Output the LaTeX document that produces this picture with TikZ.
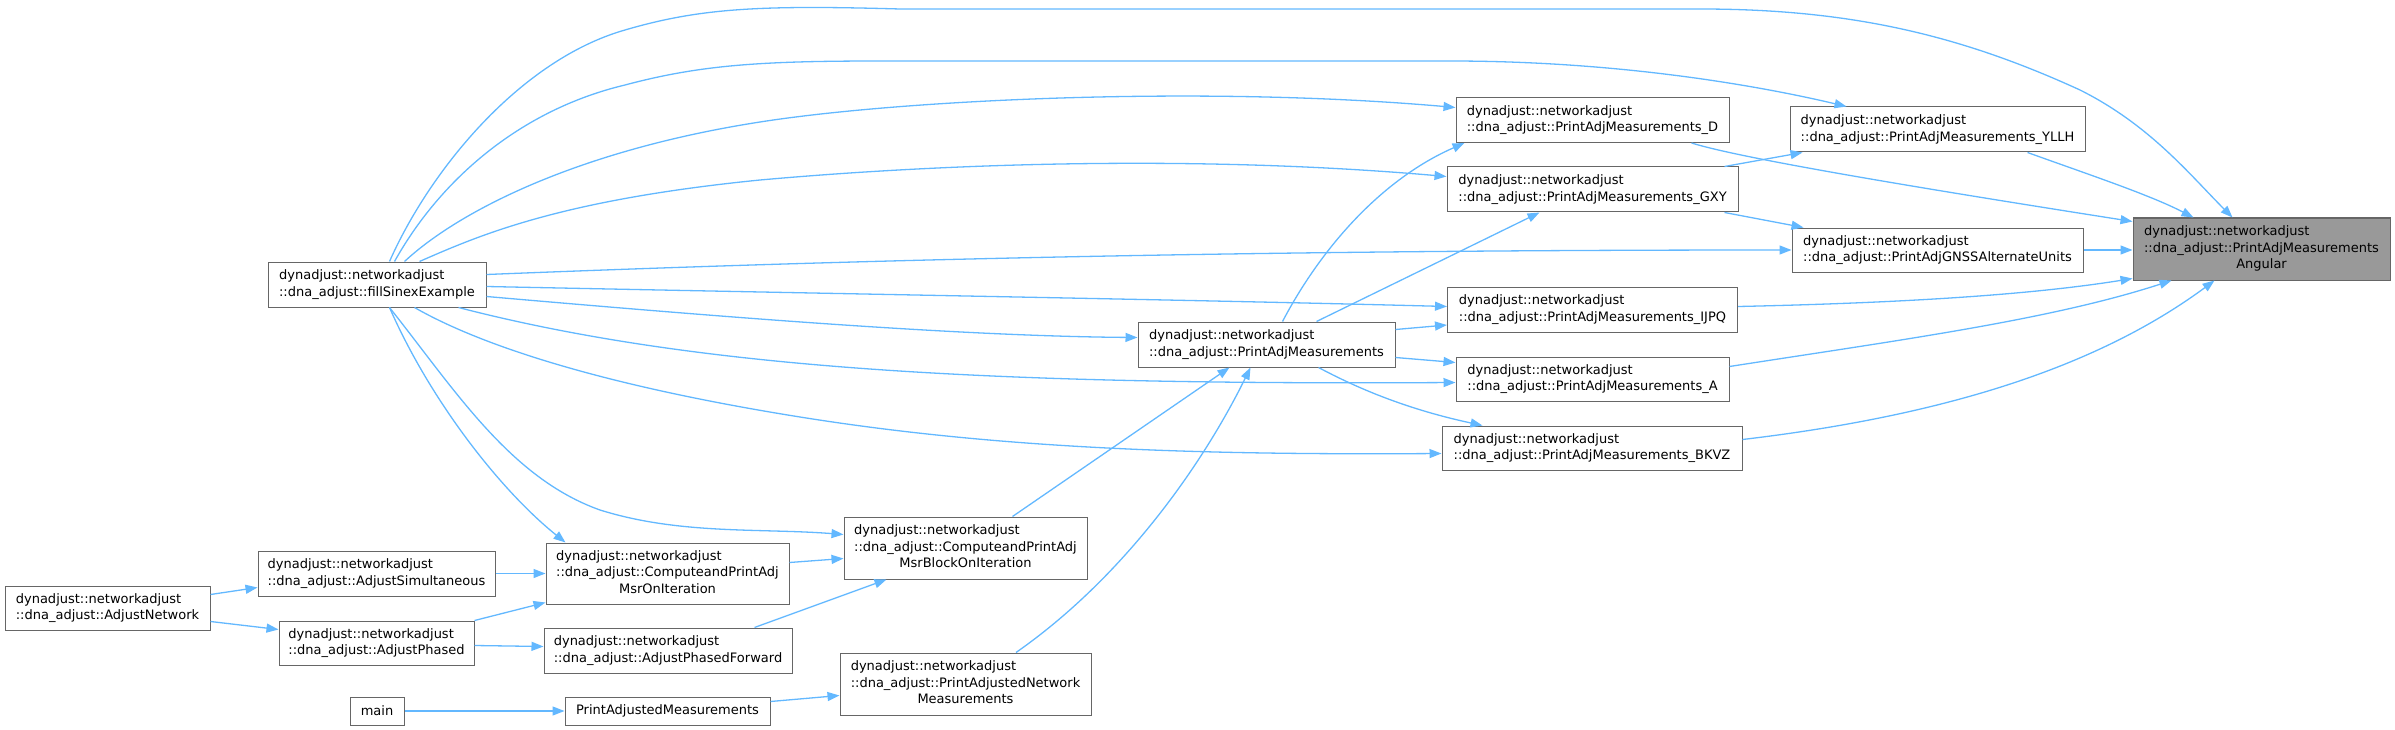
\documentclass[tikz,border=0pt]{standalone}
\usepackage{fontspec}
\setmainfont{DejaVu Sans}
\usetikzlibrary{arrows.meta,calc}
\definecolor{edgec}{HTML}{63B8FF}
\definecolor{nodeborder}{HTML}{666666}
\definecolor{selfill}{HTML}{999999}
\newcommand\twol[2]{\begin{tabular}{@{}l@{}}#1\\#2\end{tabular}}
\newcommand\threel[3]{\begin{tabular}{@{}l@{}}#1\\#2\\\multicolumn{1}{@{}c@{}}{#3}\end{tabular}}
\newcommand\dnA{dynadjust::networkadjust}
\begin{document}
\begin{tikzpicture}[x=1pt,y=-1pt,
  box/.style={draw=nodeborder, line width=1pt, fill=white, inner sep=0pt, text=black,
    font=\fontsize{13pt}{16.5pt}\selectfont},
  edge/.style={draw=edgec, line width=1.3pt, -{Triangle[length=12pt,width=9pt]}}]
\useasboundingbox (0,0) rectangle (2395,730);

% nodes
\node[box, fill=selfill, minimum width=257pt, minimum height=62pt] (T) at (2261.5,249)
  {\threel{\dnA}{::dna\_adjust::PrintAdjMeasurements}{Angular}};
\node[box, minimum width=295pt, minimum height=45pt] (YLLH) at (1937.5,129.5)
  {\twol{\dnA}{::dna\_adjust::PrintAdjMeasurements\_YLLH}};
\node[box, minimum width=291pt, minimum height=44pt] (GNSS) at (1937.5,250)
  {\twol{\dnA}{::dna\_adjust::PrintAdjGNSSAlternateUnits}};
\node[box, minimum width=273pt, minimum height=45pt] (D) at (1592.5,120)
  {\twol{\dnA}{::dna\_adjust::PrintAdjMeasurements\_D}};
\node[box, minimum width=291pt, minimum height=45pt] (GXY) at (1592.5,189.5)
  {\twol{\dnA}{::dna\_adjust::PrintAdjMeasurements\_GXY}};
\node[box, minimum width=290pt, minimum height=45pt] (IJPQ) at (1592.5,309.5)
  {\twol{\dnA}{::dna\_adjust::PrintAdjMeasurements\_IJPQ}};
\node[box, minimum width=257pt, minimum height=45pt] (PAM) at (1266.5,344.5)
  {\twol{\dnA}{::dna\_adjust::PrintAdjMeasurements}};
\node[box, minimum width=273pt, minimum height=44pt] (A) at (1592.5,379)
  {\twol{\dnA}{::dna\_adjust::PrintAdjMeasurements\_A}};
\node[box, minimum width=300pt, minimum height=44pt] (BKVZ) at (1592,448)
  {\twol{\dnA}{::dna\_adjust::PrintAdjMeasurements\_BKVZ}};
\node[box, minimum width=218pt, minimum height=45pt] (fill) at (377,284.5)
  {\twol{\dnA}{::dna\_adjust::fillSinexExample}};
\node[box, minimum width=243pt, minimum height=62pt] (CPB) at (965.5,548)
  {\threel{\dnA}{::dna\_adjust::ComputeandPrintAdj}{MsrBlockOnIteration}};
\node[box, minimum width=251pt, minimum height=62pt] (PANM) at (965.5,684)
  {\threel{\dnA}{::dna\_adjust::PrintAdjustedNetwork}{Measurements}};
\node[box, minimum width=205pt, minimum height=44pt] (AN) at (107.5,608)
  {\twol{\dnA}{::dna\_adjust::AdjustNetwork}};
\node[box, minimum width=237pt, minimum height=45pt] (AS) at (376.5,573.5)
  {\twol{\dnA}{::dna\_adjust::AdjustSimultaneous}};
\node[box, minimum width=195pt, minimum height=44pt] (AP) at (376.5,643)
  {\twol{\dnA}{::dna\_adjust::AdjustPhased}};
\node[box, minimum width=243pt, minimum height=61pt] (CPM) at (667.5,573.5)
  {\threel{\dnA}{::dna\_adjust::ComputeandPrintAdj}{MsrOnIteration}};
\node[box, minimum width=248pt, minimum height=45pt] (APF) at (668,650.5)
  {\twol{\dnA}{::dna\_adjust::AdjustPhasedForward}};
\node[box, minimum width=54pt, minimum height=28pt] (main) at (377,711) {main};
\node[box, minimum width=205pt, minimum height=28pt] (PAMeas) at (667.5,711) {PrintAdjustedMeasurements};

% edges into T
\draw[edge] ($(YLLH.south west)+(238,0)$) .. controls (2090,175) and (2150,195) .. ($(T.north west)+(61,0)$);
\draw[edge] (GNSS.east) -- (GNSS.east -| T.west);
\draw[edge] ($(D.south west)+(236,0)$) .. controls (1740,158) and (1900,185) .. ($(T.north west)+(0,4)$);
\draw[edge] ($(IJPQ.north east)+(0,20)$) .. controls (1900,303) and (2030,295) .. ($(T.south west)+(0,-2)$);
\draw[edge] ($(A.north east)+(0,10)$) .. controls (1900,340) and (2050,320) .. ($(T.south west)+(39,0)$);
\draw[edge] ($(BKVZ.north east)+(0,14)$) .. controls (1950,415) and (2100,365) .. ($(T.south west)+(82,0)$);
\draw[edge] ($(fill.north west)+(122,0)$) .. controls (430,170) and (520,60) .. (625,30)
  .. controls (700,8) and (760,5) .. (900,9) -- (1700,9)
  .. controls (1850,9) and (1960,35) .. (2080,90)
  .. controls (2150,125) and (2190,175) .. ($(T.north west)+(100,0)$);

% edges into YLLH and GNSS
\draw[edge] ($(GXY.north west)+(278,0)$) -- ($(YLLH.south west)+(13,0)$);
\draw[edge] ($(fill.north west)+(127,0)$) .. controls (440,180) and (520,110) .. (625,85)
  .. controls (700,65) and (760,61) .. (880,61) -- (1450,61)
  .. controls (1620,61) and (1760,86) .. ($(YLLH.north west)+(57,0)$);
\draw[edge] ($(GXY.south west)+(278,0)$) -- ($(GNSS.north west)+(12,0)$);
\draw[edge] ($(fill.north east)+(0,13)$) .. controls (800,262) and (1200,250) .. (GNSS.west);

% edges into D and GXY
\draw[edge] ($(fill.north west)+(137,0)$) .. controls (460,210) and (580,150) .. (760,122)
  .. controls (900,100) and (1200,85) .. ($(D.north west)+(0,10.5)$);
\draw[edge] ($(PAM.north west)+(145,0)$) .. controls (1320,250) and (1380,180) .. ($(D.south west)+(9,0)$);
\draw[edge] ($(fill.north west)+(152,0)$) .. controls (480,235) and (560,200) .. (760,180)
  .. controls (950,163) and (1200,155) .. ($(GXY.north west)+(0,10)$);
\draw[edge] ($(PAM.north west)+(179,0)$) -- ($(GXY.south west)+(93,0)$);

% edges into IJPQ, PAM, A, BKVZ
\draw[edge] ($(fill.north east)+(0,25)$) .. controls (900,295) and (1200,300) .. ($(IJPQ.north west)+(0,20)$);
\draw[edge] ($(PAM.north east)+(0,8)$) -- ($(IJPQ.north west)+(0,38.5)$);
\draw[edge] ($(fill.north east)+(0,35)$) .. controls (700,315) and (950,336) .. ($(PAM.north west)+(0,16)$);
\draw[edge] ($(PAM.north east)+(0,36)$) -- ($(A.north west)+(0,6)$);
\draw[edge] ($(fill.south west)+(191,0)$) .. controls (700,370) and (1000,385) .. ($(A.north west)+(0,26)$);
\draw[edge] ($(PAM.south west)+(181,0)$) .. controls (1370,395) and (1420,412) .. ($(BKVZ.north west)+(41,0)$);
\draw[edge] ($(fill.south west)+(147,0)$) .. controls (480,345) and (600,385) .. (800,417)
  .. controls (1000,449) and (1200,455) .. ($(BKVZ.north west)+(0,28)$);

% edges into CPB, CPM
\draw[edge] ($(fill.south west)+(122,0)$) .. controls (455,390) and (510,478) .. (600,510)
  .. controls (680,535) and (760,528) .. ($(CPB.north west)+(0,18)$);
\draw[edge] ($(fill.south west)+(122,0)$) .. controls (430,400) and (500,490) .. ($(CPM.north west)+(20,0)$);
\draw[edge] ($(CPM.north east)+(0,20)$) -- ($(CPB.north west)+(0,42)$);
\draw[edge] ($(APF.north west)+(211,0)$) -- ($(CPB.south west)+(43,0)$);
\draw[edge] (AS.east) -- (AS.east -| CPM.west);
\draw[edge] (AP.north east) -- ($(CPM.south west)+(0,-2)$);
\draw[edge] ($(AP.north east)+(0,25)$) -- ($(APF.north west)+(0,19)$);
\draw[edge] ($(AN.north east)+(0,9)$) -- ($(AS.north west)+(0,37)$);
\draw[edge] ($(AN.north east)+(0,36)$) -- ($(AP.north west)+(0,9)$);
\draw[edge] (main.east) -- (PAMeas.west);
\draw[edge] ($(PAMeas.north east)+(0,5)$) -- ($(PANM.north west)+(0,43)$);

% edges into PAM from below
\draw[edge] ($(PANM.north west)+(176.5,0)$) .. controls (1120,580) and (1200,470) .. ($(PAM.south west)+(113,0)$);
\draw[edge] ($(CPB.north west)+(169,0)$) -- ($(PAM.south west)+(92,0)$);
\end{tikzpicture}
\end{document}
